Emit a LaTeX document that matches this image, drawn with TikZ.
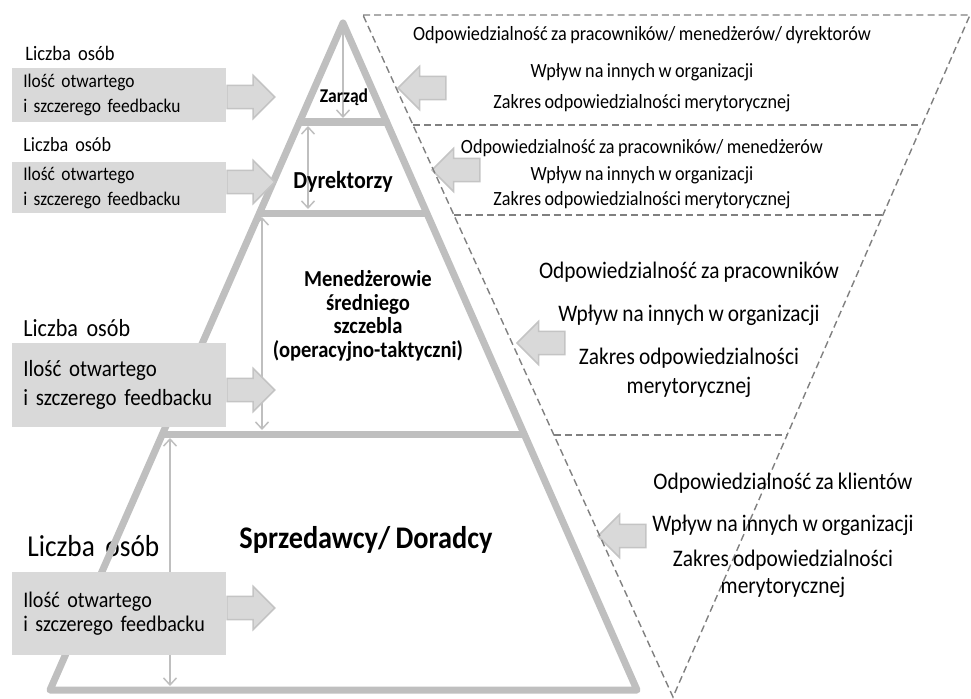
\documentclass[tikz,border=0pt]{standalone}
\usepackage{fontspec}
\setmainfont{Carlito}[FakeStretch=0.9, WordSpace=0.85]
\usepackage{tikz}
\usetikzlibrary{calc, arrows.meta, shapes.arrows}
\newcommand\fs[2]{\fontsize{#1}{#2}\selectfont}
\definecolor{pyrgray}{RGB}{191,191,191}
\definecolor{boxgray}{RGB}{217,217,217}
\definecolor{dashgray}{RGB}{128,128,128}
\definecolor{arrline}{RGB}{196,196,196}
\tikzset{>=latex}
\tikzset{
  pyr/.style={pyrgray, line width=4pt, line join=round, line cap=round},
  levelarr/.style={pyrgray, line width=0.85pt, {Straight Barb[length=4pt,width=7.4pt]}-{Straight Barb[length=4pt,width=7.4pt]}},
  toparr/.style={pyrgray, line width=0.85pt, -{Straight Barb[length=4pt,width=7.4pt]}},
  fbbox/.style={fill=boxgray, anchor=north west, inner xsep=6.24pt, inner ysep=0pt, text width=109.4pt, align=left, minimum height=#1, execute at begin node={\hyphenpenalty=10000}},
  count/.style={anchor=west, inner sep=0pt},
  rarrow/.style={single arrow, fill=boxgray, draw=arrline, line width=0.85pt, inner sep=6.24pt, single arrow head extend=5.67pt, minimum height=27.2pt, outer sep=0pt},
  larrow/.style={rarrow, shape border rotate=180},
  tri/.style={dashgray, line width=0.8pt, dash pattern=on 4pt off 2.3pt},
  rtxt/.style={font={\fs{11.5pt}{14pt}}},
  rtxtb/.style={font={\fs{13.5pt}{16pt}}}
}

\begin{document}
\begin{tikzpicture}[x=0.02cm, y=-0.02cm]
\useasboundingbox (0,0) rectangle (971,698);

% corners
\coordinate (apex) at (343,23);
\coordinate (bl) at (50,690);
\coordinate (br) at (637,690);
\coordinate (tl) at (363,15);
\coordinate (tr) at (970,15);
\coordinate (bot) at (673,697);

% arrows for the levels
\draw[toparr] (343,32) -- (343,118);
\draw[levelarr] (308,126) -- (308,209);
\draw[levelarr] (262,217) -- (262,430);
\draw[levelarr] (170,438) -- (170,686);

% left labels
\node[count, font={\fs{11.7pt}{13pt}}] (lo1) at (25,53) {Liczba\ \ osób};
\node[count, font={\fs{11.5pt}{13pt}}] (lo2) at (23,145) {Liczba\ \ osób};
\node[count, font={\fs{14pt}{15pt}}] (lo3) at (23,328) {Liczba\ \ osób};
\node[count, font={\fs{17.3pt}{19pt}}] (lo4) at (27,546) {Liczba\ \ osób};

% pyramid
\draw[pyr] (apex) -- (bl) -- (br) -- cycle;
\draw[pyr] ($(apex)!0.1484!(bl)$) -- ($(apex)!0.1484!(br)$);
\draw[pyr] ($(apex)!0.2849!(bl)$) -- ($(apex)!0.2849!(br)$);
\draw[pyr] ($(apex)!0.6162!(bl)$) -- ($(apex)!0.6162!(br)$);

\node[font={\bfseries\fs{11.1pt}{13pt}}] (zarz) at (344,97) {Zarząd};
\node[font={\bfseries\fs{13.9pt}{16pt}}] (dyr) at (343,182) {Dyrektorzy};
\node[font={\bfseries\fs{13pt}{13.5pt}}, align=center] (men) at (368,316) {Menedżerowie\\średniego\\szczebla\\(operacyjno-taktyczni)};
\node[font={\bfseries\fs{17.9pt}{20pt}}] (sprz) at (366,540) {Sprzedawcy/ Doradcy};

% boxes
\node[fbbox=30.6pt, font={\fs{11pt}{14.2pt}}] (fb1) at (12,68) {Ilość otwartego\\i szczerego feedbacku};
\node[fbbox=28.9pt, font={\fs{11pt}{14pt}}] (fb2) at (12,162) {Ilość otwartego\\i szczerego feedbacku};
\node[fbbox=47.6pt, font={\fs{13.2pt}{16.4pt}}] (fb3) at (12,343) {Ilość otwartego\\i szczerego feedbacku};
\node[fbbox=47pt, font={\fs{12.7pt}{14.2pt}}] (fb4) at (12,572) {Ilość otwartego\\i szczerego feedbacku};

% block arrows
\node[rarrow, anchor=tail] (ar1) at (227,97) {};
\node[rarrow, anchor=tail] (ar2) at (227,182) {};
\node[rarrow, anchor=tail] (ar3) at (227,390) {};
\node[rarrow, anchor=tail] (ar4) at (227,608) {};
\node[larrow, anchor=tip] (al1) at (398,88) {};
\node[larrow, anchor=tip] (al2) at (432,170) {};
\node[larrow, anchor=tip] (al3) at (517,343) {};
\node[larrow, anchor=tip] (al4) at (598,536) {};

% inverted triangle
\draw[tri] (tl) -- (tr) -- (bot) -- cycle;
\draw[tri] ($(tl)!0.1613!(bot)$) -- ($(tr)!0.1613!(bot)$);
\draw[tri] ($(tl)!0.2933!(bot)$) -- ($(tr)!0.2933!(bot)$);
\draw[tri] ($(tl)!0.6158!(bot)$) -- ($(tr)!0.6158!(bot)$);

% texts on the right
\node[rtxt] (r1a) at (642,35) {Odpowiedzialność za pracowników/ menedżerów/ dyrektorów};
\node[rtxt] (r1b) at (642,72) {Wpływ na innych w organizacji};
\node[rtxt] (r1c) at (642,103) {Zakres odpowiedzialności merytorycznej};
\node[rtxt] (r2a) at (642,148) {Odpowiedzialność za pracowników/ menedżerów};
\node[rtxt] (r2b) at (642,175) {Wpływ na innych w organizacji};
\node[rtxt] (r2c) at (642,200) {Zakres odpowiedzialności merytorycznej};
\node[rtxtb] (r3a) at (689,272) {Odpowiedzialność za pracowników};
\node[rtxtb] (r3b) at (689,315) {Wpływ na innych w organizacji};
\node[rtxtb] (r3c) at (689,358) {Zakres odpowiedzialności};
\node[rtxtb] (r3d) at (689,387) {merytorycznej};
\node[rtxtb] (r4a) at (783,483) {Odpowiedzialność za klientów};
\node[rtxtb] (r4b) at (783,525) {Wpływ na innych w organizacji};
\node[rtxtb] (r4c) at (783,560) {Zakres odpowiedzialności};
\node[rtxtb] (r4d) at (783,587) {merytorycznej};
\end{tikzpicture}
\end{document}
